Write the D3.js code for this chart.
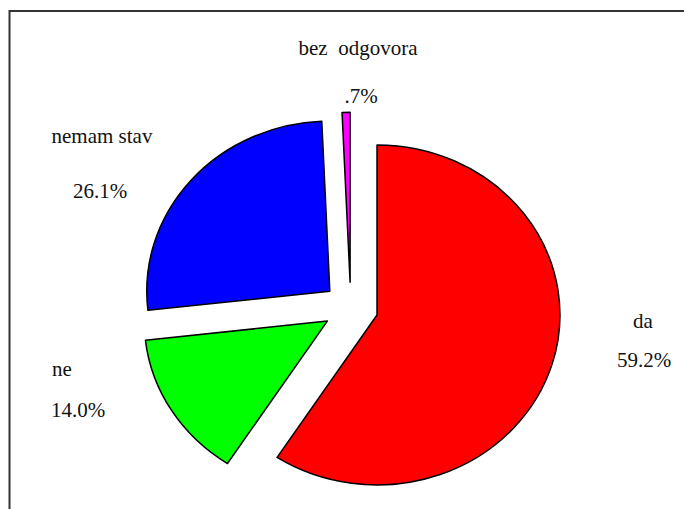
<!DOCTYPE html>
<html>
<head>
<meta charset="utf-8">
<script src="https://cdn.jsdelivr.net/npm/d3@7"></script>
<style>
  html, body { margin: 0; padding: 0; background: #fff; }
  svg { display: block; }
</style>
</head>
<body>
<svg id="chart" width="684" height="509"></svg>
<script>
// ---- data ----
const categories = ["da", "ne", "nemam stav", "bez  odgovora"];
const values = [59.2, 14.0, 26.1, 0.7];
const valueLabels = ["59.2%", "14.0%", "26.1%", ".7%"];

// ---- styles / layout ----
const colors = ["#ff0000", "#00ff00", "#0000ff", "#ff00ff"];
const W = 684, H = 509;
const cx = 350.7, cy = 307.7, rx = 183, ry = 170, explode = 0.15;
const FONT = "'Liberation Serif', 'Times New Roman', Times, serif";
// label anchor points (name, value) — layout only
const labelLayout = [
  { nx: 643, ny: 328, vx: 644, vy: 367, anchor: "middle" },
  { nx: 52, ny: 376, vx: 51, vy: 417, anchor: "start" },
  { nx: 102, ny: 143, vx: 100, vy: 198, anchor: "middle" },
  { nx: 358, ny: 55, vx: 361, vy: 103, anchor: "middle" }
];

const svg = d3.select("#chart");

// frame
svg.append("rect")
  .attr("x", 9.5).attr("y", 11)
  .attr("width", W + 20).attr("height", H + 20)
  .attr("fill", "none").attr("stroke", "#333").attr("stroke-width", 2);

const data = categories.map((c, i) => ({ name: c, value: values[i], label: valueLabels[i], color: colors[i] }));
const pie = d3.pie().sort(null).value(d => d.value).startAngle(0).endAngle(2 * Math.PI);
const arcs = pie(data);
const arc = d3.arc().innerRadius(0).outerRadius(1);

const g = svg.append("g").attr("transform", `translate(${cx},${cy}) scale(${rx},${ry})`);

g.selectAll("path.slice")
  .data(arcs)
  .join("path")
  .attr("class", "slice")
  .attr("transform", d => {
    const m = (d.startAngle + d.endAngle) / 2;
    return `translate(${explode * Math.sin(m)},${-explode * Math.cos(m)})`;
  })
  .attr("d", arc)
  .attr("fill", d => d.data.color)
  .attr("stroke", "#000")
  .attr("stroke-width", 1.5)
  .attr("stroke-linejoin", "round")
  .attr("vector-effect", "non-scaling-stroke");

// labels
const lg = svg.append("g")
  .attr("font-family", FONT)
  .attr("font-size", 21)
  .attr("fill", "#111")
  .style("font-family", FONT)
  .style("white-space", "pre");
arcs.forEach((d, i) => {
  const L = labelLayout[i];
  lg.append("text").attr("x", L.nx).attr("y", L.ny).attr("text-anchor", L.anchor)
    .attr("xml:space", "preserve").text(d.data.name);
  lg.append("text").attr("x", L.vx).attr("y", L.vy).attr("text-anchor", L.anchor).text(d.data.label);
});
</script>
</body>
</html>
